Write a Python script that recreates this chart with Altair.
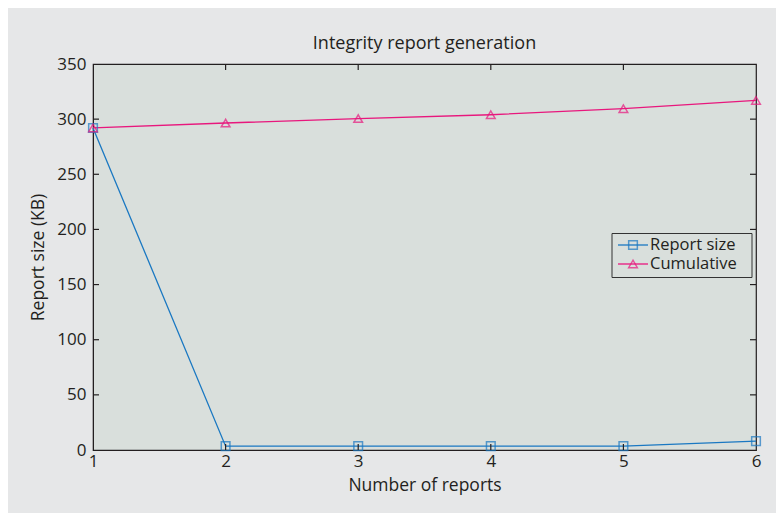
import altair as alt
import pandas as pd

# ---- data ----
reports = [1, 2, 3, 4, 5, 6]
report_size = [292, 3.5, 3.5, 3.5, 3.5, 8]
cumulative = [292, 296.5, 300.5, 304, 309.5, 317]
series_names = ["Report size", "Cumulative"]
series_colors = ["#1a78c2", "#e8177d"]
series_shapes = ["square", "triangle-up"]
x_ticks = [1, 2, 3, 4, 5, 6]
y_ticks = [0, 50, 100, 150, 200, 250, 300, 350]
x_inner_ticks = [2, 3, 4, 5]
y_inner_ticks = [50, 100, 150, 200, 250, 300]

df = pd.DataFrame({
    "reports": reports * 2,
    "value": report_size + cumulative,
    "series": [series_names[0]] * len(reports) + [series_names[1]] * len(reports),
})

W, H = 663, 386
FONT = "Open Sans"
TXT = "#231f20"
PLOT_BG = "#d9dfdc"
OUT_BG = "#e6e7e8"

xscale = alt.Scale(domain=[1, 6], nice=False, zero=False)
yscale = alt.Scale(domain=[0, 350], nice=False)
cscale = alt.Scale(domain=series_names, range=series_colors)
sscale = alt.Scale(domain=series_names, range=series_shapes)

xaxis = alt.Axis(values=x_ticks, ticks=False, grid=False, labelFontSize=17, labelFont=FONT,
                 labelColor=TXT, labelPadding=3, domainColor=TXT, title="Number of reports",
                 titleFont=FONT, titleFontSize=17.5, titleFontWeight="normal", titleColor=TXT,
                 titlePadding=7, format="d", labelFlush=False)
yaxis = alt.Axis(values=y_ticks, ticks=False, grid=False, labelFontSize=17, labelFont=FONT,
                 labelColor=TXT, labelPadding=7, domainColor=TXT, title="Report size (KB)",
                 titleFont=FONT, titleFontSize=17.5, titleFontWeight="normal", titleColor=TXT,
                 titlePadding=9, labelFlush=False)

base = alt.Chart(df)
lines = base.mark_line(strokeWidth=1.3, clip=False).encode(
    x=alt.X("reports:Q", scale=xscale, axis=xaxis),
    y=alt.Y("value:Q", scale=yscale, axis=yaxis),
    color=alt.Color("series:N", scale=cscale, legend=None),
    detail="series:N",
)
points = base.mark_point(filled=False, size=75, strokeWidth=1.5, clip=False).encode(
    x=alt.X("reports:Q", scale=xscale),
    y=alt.Y("value:Q", scale=yscale),
    color=alt.Color("series:N", scale=cscale, legend=None),
    shape=alt.Shape("series:N", scale=sscale, legend=None),
)

# inward ticks on four sides
xt = pd.DataFrame({"t": x_inner_ticks})
yt = pd.DataFrame({"t": y_inner_ticks})
tick_style = dict(color=TXT, strokeWidth=1.2)
bottom_ticks = alt.Chart(xt).mark_rule(**tick_style).encode(
    x=alt.X("t:Q", scale=xscale), y=alt.value(H), y2=alt.value(H - 6))
top_ticks = alt.Chart(xt).mark_rule(**tick_style).encode(
    x=alt.X("t:Q", scale=xscale), y=alt.value(0), y2=alt.value(6))
left_ticks = alt.Chart(yt).mark_rule(**tick_style).encode(
    y=alt.Y("t:Q", scale=yscale), x=alt.value(0), x2=alt.value(6))
right_ticks = alt.Chart(yt).mark_rule(**tick_style).encode(
    y=alt.Y("t:Q", scale=yscale), x=alt.value(W), x2=alt.value(W - 6))

# manual legend (line + marker + label)
one = pd.DataFrame({"a": [0]})
lx0, lx1, ly0, ly1 = 519, 659, 169.5, 213.5
legend_layers = [
    alt.Chart(one).mark_rect(fill=PLOT_BG, stroke="#333333", strokeWidth=1).encode(
        x=alt.value(lx0), x2=alt.value(lx1), y=alt.value(ly0), y2=alt.value(ly1))
]
entry_y = [181, 200]
for name, col, shp, ey in zip(series_names, series_colors, series_shapes, entry_y):
    legend_layers.append(alt.Chart(one).mark_rule(color=col, strokeWidth=1.3).encode(
        x=alt.value(525), x2=alt.value(555), y=alt.value(ey)))
    legend_layers.append(alt.Chart(one).mark_point(shape=shp, filled=False, size=75, color=col,
                                                  strokeWidth=1.5).encode(
        x=alt.value(540), y=alt.value(ey)))
    legend_layers.append(alt.Chart(one).mark_text(text=name, align="left", baseline="middle",
                                                 font=FONT, fontSize=16.5, color=TXT).encode(
        x=alt.value(557), y=alt.value(ey)))

chart = alt.layer(
    lines, points, bottom_ticks, top_ticks, left_ticks, right_ticks, *legend_layers
).properties(
    width=W, height=H,
    title=alt.TitleParams("Integrity report generation", font=FONT, fontSize=18,
                          fontWeight="normal", color=TXT, anchor="middle", offset=2),
    autosize=alt.AutoSizeParams(type="none"),
    padding={"left": 85, "top": 56, "right": 20, "bottom": 63},
    background=OUT_BG,
).configure_view(
    fill=PLOT_BG, stroke=TXT, strokeWidth=1.2
)

chart.save("out.html", embed_options={"renderer": "svg", "actions": False})
